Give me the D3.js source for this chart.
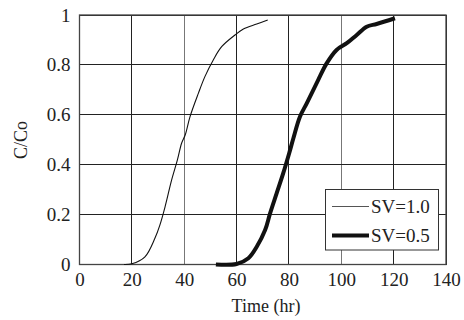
<!DOCTYPE html>
<html><head><meta charset="utf-8">
<script src="https://cdn.jsdelivr.net/npm/d3@7"></script>
<style>body{margin:0;background:#fff}svg{display:block}svg text{font-family:"Times New Roman","Liberation Serif",Tinos,Times,serif;fill:#222}</style>
</head><body>
<script>
const xTicks = [0,20,40,60,80,100,120,140];
const yTicks = [0,0.2,0.4,0.6,0.8,1];
const yTickLabels = ["0","0.2","0.4","0.6","0.8","1"];
const sv10Time = [17,20,25,28.8,30.7,32.7,35.2,37.4,39.0,40.4,42.2,45.4,47.9,51.1,54.3,59.4,62.6,67.7,71.9];
const sv10Conc = [0,0.003,0.031,0.105,0.158,0.232,0.339,0.419,0.486,0.52,0.592,0.686,0.753,0.82,0.873,0.92,0.944,0.964,0.98];
const sv05Time = [52.1,60,64.5,67.7,70.9,72.8,75.3,77.8,80.1,81.7,84.2,86.8,91.2,94.4,98.2,102.1,105.9,109.7,113.5,120.5];
const sv05Conc = [0,0.002,0.025,0.071,0.138,0.205,0.285,0.365,0.446,0.506,0.592,0.646,0.74,0.806,0.86,0.887,0.92,0.953,0.964,0.987];
const seriesNames = ["SV=1.0","SV=0.5"];

const W=464,H=320;
const svg=d3.select("body").append("svg").attr("width",W).attr("height",H);
const x=d3.scaleLinear().domain([0,140]).range([79.5,446]);
const y=d3.scaleLinear().domain([0,1]).range([264.5,15]);

// grid
svg.append("g").attr("shape-rendering","crispEdges").selectAll("line").data(xTicks).join("line")
 .attr("x1",d=>x(d)).attr("x2",d=>x(d)).attr("y1",y(0)).attr("y2",y(1))
 .attr("stroke",d=>(d===40||d===100)?"#777":"#222").attr("stroke-width",1);
svg.append("g").attr("shape-rendering","crispEdges").selectAll("line").data(yTicks).join("line")
 .attr("x1",x(0)).attr("x2",x(140)).attr("y1",d=>y(d)).attr("y2",d=>y(d))
 .attr("stroke","#222").attr("stroke-width",1);
svg.append("rect").attr("x",x(0)).attr("y",y(1)).attr("width",x(140)-x(0)).attr("height",y(0)-y(1))
 .attr("fill","none").attr("stroke","#444").attr("stroke-width",1.3);

// axes labels
const xa=d3.axisBottom(x).tickValues(xTicks).tickSize(0).tickPadding(8).tickFormat(d3.format("d"));
const gx=svg.append("g").attr("transform",`translate(0,${y(0)})`).call(xa);
gx.select(".domain").remove();
gx.selectAll("text").attr("font-size",19).attr("fill","#222");
const ya=d3.axisLeft(y).tickValues(yTicks).tickSize(0).tickPadding(9).tickFormat((d,i)=>yTickLabels[i]);
const gy=svg.append("g").attr("transform",`translate(${x(0)},0)`).call(ya);
gy.select(".domain").remove();
gy.selectAll("text").attr("font-size",19).attr("fill","#222");

svg.append("text").attr("x",266).attr("y",312).attr("text-anchor","middle").attr("font-size",18).text("Time (hr)");
svg.append("text").attr("transform","translate(27,140) rotate(-90)").attr("text-anchor","middle").attr("font-size",18).text("C/Co");

const line=d3.line().x(d=>x(d[0])).y(d=>y(d[1])).curve(d3.curveCatmullRom);
const d10=sv10Time.map((t,i)=>[t,sv10Conc[i]]);
const d05=sv05Time.map((t,i)=>[t,sv05Conc[i]]);
svg.append("path").datum(d10).attr("d",line).attr("fill","none").attr("stroke","#111").attr("stroke-width",1.1);
svg.append("path").datum(d05).attr("d",line).attr("fill","none").attr("stroke","#111").attr("stroke-width",4).attr("stroke-linejoin","round");

// legend
const lg=svg.append("g");
lg.append("rect").attr("x",325.5).attr("y",189.5).attr("width",113).attr("height",60.5).attr("fill","#fff").attr("stroke","#333").attr("stroke-width",1);
const lw=[1,4];
seriesNames.forEach((n,i)=>{
 const yy=206.5+i*29;
 lg.append("line").attr("x1",332).attr("x2",369).attr("y1",yy).attr("y2",yy).attr("stroke",i===0?"#555":"#111").attr("stroke-width",lw[i]);
 lg.append("text").attr("x",371).attr("y",yy+6).attr("font-size",19).text(n);
});
</script>
</body></html>
